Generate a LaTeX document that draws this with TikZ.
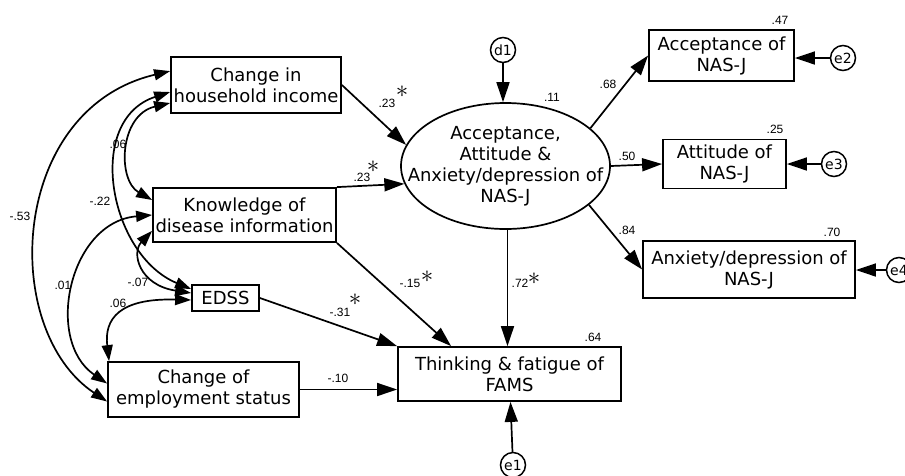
\documentclass[tikz,border=0pt]{standalone}
\usepackage{fontspec}
\setmainfont{DejaVu Sans}
\newfontfamily\labfont{Liberation Sans}
\usetikzlibrary{arrows.meta,shapes.geometric,calc}
\tikzset{
  box/.style={draw, rectangle, line width=1.8pt, inner sep=0pt, align=center,
    font=\fontsize{18}{21}\selectfont},
  txt/.style={inner sep=0pt, align=center, font=\fontsize{18}{21}\selectfont},
  err/.style={draw, circle, line width=1.5pt, minimum size=25pt, inner sep=0pt,
    font=\fontsize{14}{14}\selectfont},
  lab/.style={inner sep=0pt, font=\labfont\fontsize{12}{12}\selectfont},
  ast/.style={inner sep=0pt, font=\fontsize{28}{28}\selectfont},
  arr/.style={-{Triangle[length=20pt,width=13pt]}, line width=1.7pt},
  dbl/.style={{Triangle[length=16pt,width=11pt]}-{Triangle[length=16pt,width=11pt]}, line width=1.7pt}
}
\begin{document}
\begin{tikzpicture}[x=1pt,y=-1pt]
\useasboundingbox (0,0) rectangle (905,475);
% boxes
\node[box, minimum width=170pt, minimum height=56pt] (hh) at (256,85) {Change in\\household income};
\node[box, minimum width=183pt, minimum height=54pt] (kn) at (244.5,215) {Knowledge of\\disease information};
\node[box, minimum width=67pt, minimum height=26pt] (edss) at (225.5,298) {EDSS};
\node[box, minimum width=191pt, minimum height=55pt] (emp) at (203.5,389.5) {Change of\\employment status};
\node[box, minimum width=223pt, minimum height=54pt] (fams) at (509.5,374) {Thinking \& fatigue of\\FAMS};
\node[draw, ellipse, line width=1.7pt, minimum width=209pt, minimum height=126pt, inner sep=0pt] (lat) at (505.5,166) {};
\node[txt] (latx) at (lat.center) {Acceptance,\\Attitude \&\\Anxiety/depression of\\NAS-J};
\node[box, minimum width=145pt, minimum height=51pt] (acc) at (721.5,55.5) {Acceptance of\\NAS-J};
\node[box, minimum width=123pt, minimum height=49pt] (att) at (724.5,164) {Attitude of\\NAS-J};
\node[box, minimum width=212pt, minimum height=57pt] (anx) at (749,269.5) {Anxiety/depression of\\NAS-J};
% error terms
\node[err] (d1) at (503,50) {d1};
\node[err] (e2) at (843,58) {e2};
\node[err] (e3) at (834,164) {e3};
\node[err] (e4) at (899,270) {e4};
\node[err] (e1) at (513,465) {e1};
% paths
\draw[arr] (d1) -- (lat.north -| d1);
\draw[arr] (hh.east) -- (lat.168);
\draw[arr] (kn.north east) -- (lat.190);
\draw[arr] (kn.south east) -- ($(fams.north west)+(54,0)$);
\draw[arr] (edss.east) -- (fams.north west);
\draw[arr] (emp.east) -- (emp.east -| fams.west);
\draw[arr] ([xshift=2pt]lat.south) -- ([xshift=2pt]lat.south |- fams.north);
\draw[arr] (e1) -- ([xshift=1pt]fams.south);
\draw[arr] (lat.24) -- (acc.west);
\draw[arr] (lat.east) -- (att.west);
\draw[arr] (lat.-25) -- (anx.west);
\draw[arr] (e2) -- (e2 -| acc.east);
\draw[arr] (e3) -- (e3 -| att.east);
\draw[arr] (e4) -- (e4 -| anx.east);
% covariances
\draw[dbl] ($(hh.west)+(0,18)$) .. controls +(-51,12) and +(-35,-20) .. ($(kn.west)+(0,-15)$);
\draw[dbl] ($(hh.west)+(0,7)$) .. controls +(-86,28) and +(-82,-34) .. ($(edss.west)+(0,-9)$);
\draw[dbl] ($(kn.south west)+(0,-12)$) .. controls +(-21,22) and +(-52,-8) .. ($(edss.west)+(0,-5)$);
\draw[dbl] (kn.west) .. controls +(-83,7) and +(-63,-43) .. ($(emp.west)+(0,-6)$);
\draw[dbl] ($(hh.north west)+(0,15)$) .. controls +(-161,38) and +(-108,-72) .. ($(emp.west)+(0,12)$);
\draw[dbl] ($(edss.west)+(0,2)$) .. controls +(-72,-2) and +(-5,-42) .. ($(emp.north west)+(2,0)$);
% labels
\node[lab] (l47) at (780,20) {.47};
\node[lab] (l25) at (775,129) {.25};
\node[lab] (l70) at (832,232) {.70};
\node[lab] (l11) at (552,97) {.11};
\node[lab] (l68) at (608,84) {.68};
\node[lab] (l50) at (627,156) {.50};
\node[lab] (l84) at (627,230) {.84};
\node[lab] (l64) at (593,337) {.64};
\node[lab] (l72) at (520,283) {.72};
\node[ast] (a72) at (534,279) {$\ast$};
\node[lab] (l15) at (410,283) {-.15};
\node[ast] (a15) at (427,277) {$\ast$};
\node[lab] (l23a) at (387,103) {.23};
\node[ast] (a23a) at (402,92) {$\ast$};
\node[lab] (l23b) at (362,177) {.23};
\node[ast] (a23b) at (373,167) {$\ast$};
\node[lab] (l31) at (340,312) {-.31};
\node[ast] (a31) at (355,300) {$\ast$};
\node[lab] (l10) at (338,378) {-.10};
\node[lab] (l06a) at (118,144) {.06};
\node[lab] (l22) at (100,201) {-.22};
\node[lab] (l53) at (20,216) {-.53};
\node[lab] (l01) at (63,285) {.01};
\node[lab] (l07) at (138,282) {-.07};
\node[lab] (l06b) at (118,303) {.06};
\end{tikzpicture}
\end{document}
